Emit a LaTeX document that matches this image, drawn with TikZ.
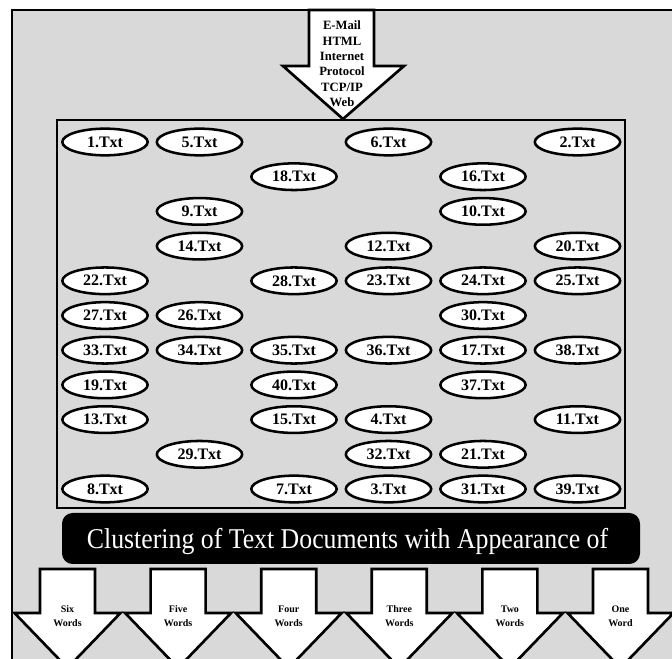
\documentclass[tikz,border=0pt]{standalone}
\usepackage{fontspec}
\setmainfont{Liberation Serif}
\usetikzlibrary{shapes.geometric}
\definecolor{panelgray}{RGB}{217,217,217}

\begin{document}
\begin{tikzpicture}[x=0.75pt,y=-0.75pt,
        txtfile/.style={draw, ellipse, fill=white, line width=1.9pt, minimum width=64pt, minimum height=20pt, inner sep=0pt, font=\fontsize{12}{14}\selectfont\bfseries},
        arrowbox/.style={draw, fill=white, line width=2pt, line join=miter},
        arrowtext/.style={align=center, font=\fontsize{7.5}{10.5}\selectfont\bfseries}]
        \useasboundingbox (0,0) rectangle (672,659);
        \clip (0,0) rectangle (672,659);
        \fill[white] (0,0) rectangle (672,659);
        \draw[fill=panelgray, line width=2.2pt] (12,10) rectangle (690,680);
        % The input arrow at the top.
            \draw[arrowbox] (309,10) -- (374,10) -- (374,66) -- (404,66) -- (343,119) -- (283,66) -- (309,66) -- cycle;
            \node[arrowtext, font=\fontsize{9.5}{11.5}\selectfont\bfseries] (topics) at (342,64) {E-Mail\\HTML\\Internet\\Protocol\\TCP/IP\\Web};
        % This draws the box of text files.
            \draw[line width=2pt] (57,120) rectangle (625,508);
            \foreach \n/\c/\r in {1/1/1, 5/2/1, 6/4/1, 2/6/1,
                    18/3/2, 16/5/2,
                    9/2/3, 10/5/3,
                    14/2/4, 12/4/4, 20/6/4,
                    22/1/5, 28/3/5, 23/4/5, 24/5/5, 25/6/5,
                    27/1/6, 26/2/6, 30/5/6,
                    33/1/7, 34/2/7, 35/3/7, 36/4/7, 17/5/7, 38/6/7,
                    19/1/8, 40/3/8, 37/5/8,
                    13/1/9, 15/3/9, 4/4/9, 11/6/9,
                    29/2/10, 32/4/10, 21/5/10,
                    8/1/11, 7/3/11, 3/4/11, 31/5/11, 39/6/11}
                \node[txtfile] (t\n) at ({105+(\c-1)*94.5},{142+(\r-1)*34.7}) {\n.Txt};
        % The black title bar.
            \fill[black, rounded corners=8pt] (62,513) rectangle (640,564);
            \node[text=white, anchor=base, inner sep=0pt, font=\fontsize{21.5}{24}\selectfont] (title) at (347.5,548) {\scalebox{0.9}[1]{Clustering of Text Documents with Appearance of}};
        % Below are the six output arrows.
            \foreach [count=\i] \w in {{Six\\Words},{Five\\Words},{Four\\Words},{Three\\Words},{Two\\Words},{One\\Word}} {
                \pgfmathsetmacro{\cx}{67.5+(\i-1)*110.6}
                \draw[arrowbox] ({\cx-27.5},569) -- ({\cx+27.5},569) -- ({\cx+27.5},613) -- ({\cx+53},613) -- (\cx,668) -- ({\cx-53},613) -- ({\cx-27.5},613) -- cycle;
                \node[arrowtext] (out\i) at (\cx,616) {\w};
            }
    \end{tikzpicture}
\end{document}
